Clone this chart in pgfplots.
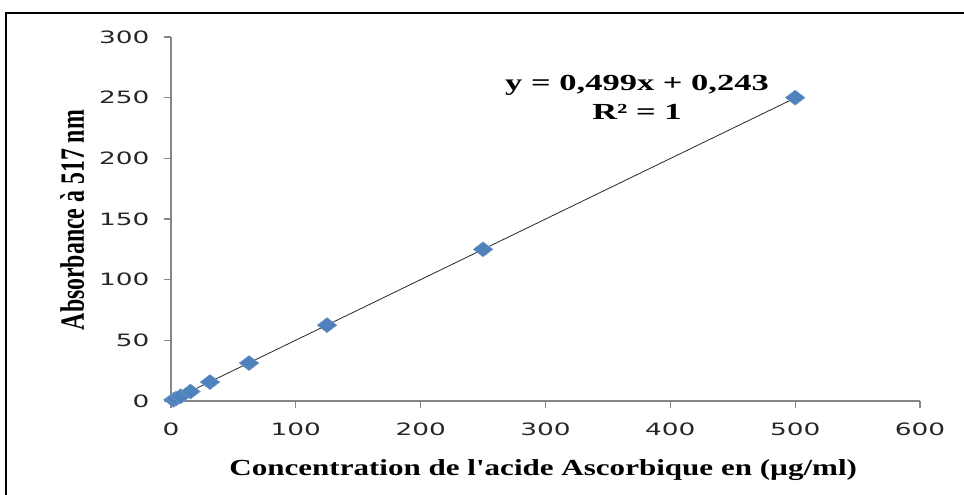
\documentclass[border=0pt]{standalone}
\usepackage{fontspec}
\setmainfont{Liberation Serif}
\newfontfamily\tickfont[FakeStretch=1.55]{DejaVu Sans}
\newfontfamily\wideserif[FakeStretch=1.35]{Liberation Serif}
\newfontfamily\eqserif[FakeStretch=1.5]{Liberation Serif}
\newfontfamily\narrowserif[FakeStretch=0.7]{Liberation Serif}
\usepackage{pgfplots}
\pgfplotsset{compat=1.18}
\definecolor{exblue}{HTML}{4F81BD}
\definecolor{axgray}{HTML}{868686}
\begin{document}
\begin{tikzpicture}
\begin{axis}[
  scale only axis,
  width=749pt, height=364pt,
  at={(171pt,94pt)}, anchor=south west,
  xmin=0, xmax=600, ymin=0, ymax=300,
  xtick={0,100,...,600}, ytick={0,50,...,300},
  axis x line*=bottom, axis y line*=left,
  axis line style={axgray, line width=1.3pt, -},
  tick align=outside, major tick length=7pt,
  tick style={axgray, line width=1.3pt},
  /pgf/number format/assume math mode=true,
  ticklabel style={font=\tickfont\fontsize{17}{17}\selectfont, text=black!85},
  xticklabel style={yshift=-11pt},
  yticklabel style={xshift=-11pt},
  xlabel={\wideserif\bfseries Concentration de l'acide Ascorbique en (µg/ml)},
  ylabel={\narrowserif\bfseries Absorbance à 517 nm},
  xlabel style={font=\fontsize{23}{23}\selectfont, at={(axis description cs:0.497,-0.19)}, anchor=center},
  ylabel style={font=\fontsize{34}{34}\selectfont, at={(axis description cs:-0.132,0.497)}, anchor=center, rotate=0},
  clip=false,
]
\addplot[black!85, line width=0.8pt, no marks] coordinates {(0,0.243) (500,249.743)};
\addplot[only marks, mark=diamond*, mark size=7.5pt,
  mark options={xscale=1.75, fill=exblue, draw=exblue!80!white, line width=0.4pt}]
  coordinates {
  (1.95,0.98) (3.9,1.95) (7.8,3.9) (15.6,7.8) (31.25,15.6) (62.5,31.25) (125,62.5) (250,125) (500,250)
};
\node[font=\eqserif\bfseries\fontsize{23}{23}\selectfont, anchor=center] at (axis cs:373.3,260.4) {y = 0,499x + 0,243};
\node[font=\eqserif\bfseries\fontsize{23}{23}\selectfont, anchor=center] at (axis cs:373.3,238.2) {R² = 1};
\end{axis}
\draw[line width=2.5pt, black] (6pt,-20pt) |- (990pt,482pt);
\pgfresetboundingbox
\path[use as bounding box] (0,0) rectangle (964pt,495pt);
\end{tikzpicture}
\end{document}
